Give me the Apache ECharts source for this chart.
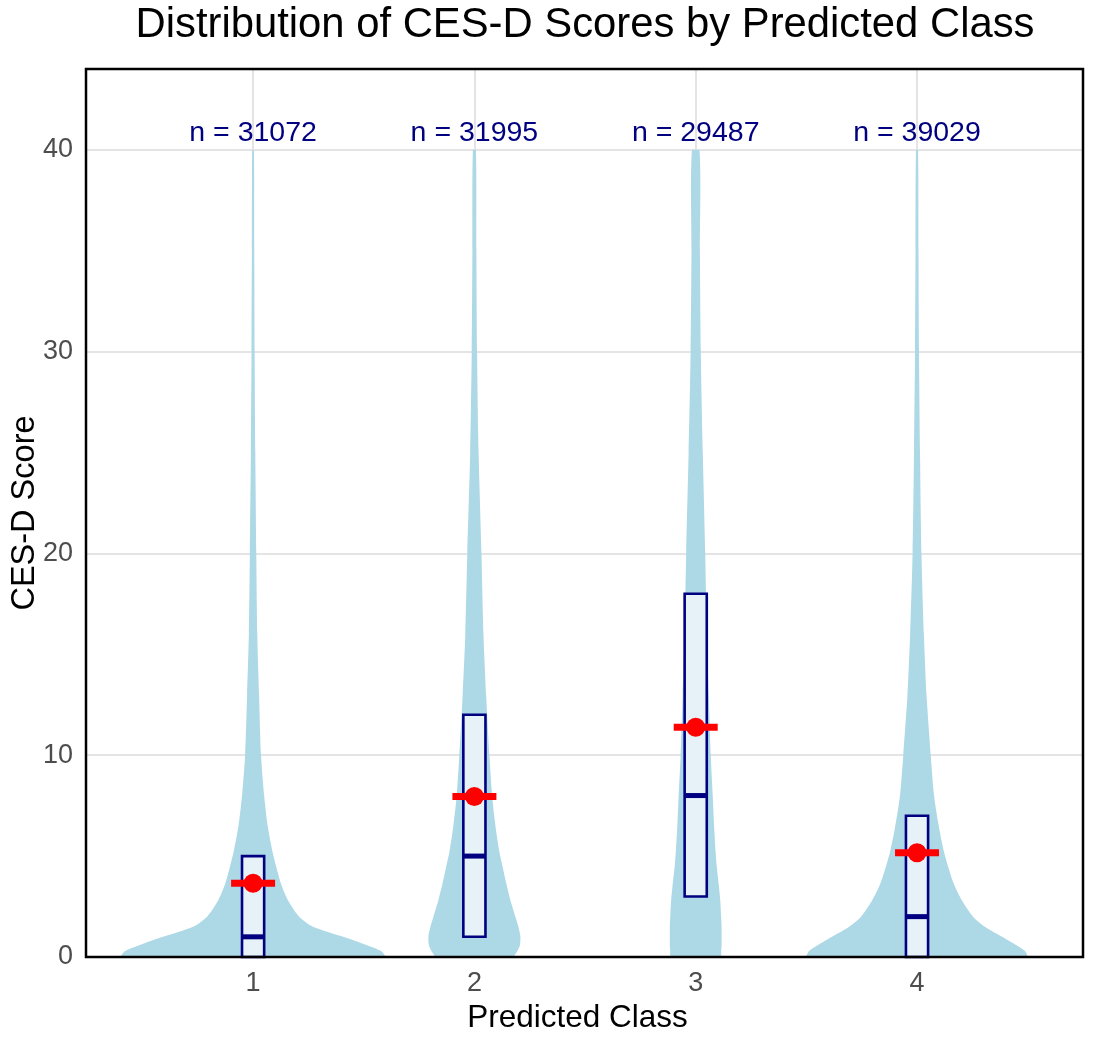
<!DOCTYPE html>
<html>
<head>
<meta charset="utf-8">
<script src="https://cdn.jsdelivr.net/npm/echarts@6/dist/echarts.min.js"></script>
<style>
  html, body { margin: 0; padding: 0; background: #fff; }
  #chart { width: 1096px; height: 1040px; }
</style>
</head>
<body>
<div id="chart"></div>
<script>
// data
const classes = [1, 2, 3, 4];
const counts = [31072, 31995, 29487, 39029];
const q1 = [0, 1, 3, 0];
const medians = [1, 5, 8, 2];
const q3 = [5, 12, 18, 7];
const means = [3.65, 7.95, 11.38, 5.17];
const yTicks = [0, 10, 20, 30, 40];
const labelScore = 40.8;

// violin half-widths (in class-axis units) at each score
const densityScores = [0, 0.3, 0.6, 1, 1.5, 2, 2.8, 3.6, 4.5, 5.2, 6.5, 8, 10, 13, 16, 20, 25, 30, 35, 40];
const violin1 = [0.601, 0.578, 0.511, 0.407, 0.271, 0.208, 0.158, 0.127, 0.104, 0.088, 0.066, 0.050, 0.036, 0.027, 0.019, 0.0145, 0.010, 0.007, 0.0054, 0.0036];
const violin2 = [0.172, 0.194, 0.206, 0.208, 0.199, 0.185, 0.163, 0.145, 0.127, 0.113, 0.095, 0.080, 0.068, 0.053, 0.041, 0.032, 0.019, 0.012, 0.009, 0.0068];
const violin3 = [0.113, 0.115, 0.117, 0.117, 0.117, 0.115, 0.111, 0.104, 0.095, 0.090, 0.083, 0.077, 0.068, 0.059, 0.050, 0.043, 0.032, 0.023, 0.019, 0.017];
const violin4 = [0.502, 0.488, 0.447, 0.384, 0.307, 0.253, 0.203, 0.167, 0.140, 0.122, 0.098, 0.077, 0.062, 0.043, 0.031, 0.020, 0.0136, 0.009, 0.0068, 0.0045];
const violins = [violin1, violin2, violin3, violin4];

const font = '"Liberation Sans", Arial, Helvetica, sans-serif';
const boxHalf = 0.05;

const chart = echarts.init(document.getElementById('chart'));

function bounds(pts) {
  let x0 = Infinity, y0 = Infinity, x1 = -Infinity, y1 = -Infinity;
  pts.forEach(p => {
    x0 = Math.min(x0, p[0]); y0 = Math.min(y0, p[1]);
    x1 = Math.max(x1, p[0]); y1 = Math.max(y1, p[1]);
  });
  return [[x0, y0], [x1, y1]];
}

const option = {
  animation: false,
  textStyle: { fontFamily: font },
  grid: { left: 86, right: 13, top: 69, bottom: 83, containLabel: false, outerBoundsMode: 'none' },
  xAxis: {
    type: 'value',
    min: 0.245,
    max: 4.75,
    axisLine: { show: false },
    axisTick: { show: false, customValues: classes },
    axisLabel: { customValues: classes, fontSize: 27, color: '#4d4d4d', margin: 13 },
    splitLine: { show: true, lineStyle: { color: '#e4e4e4', width: 2 } },
    name: 'Predicted Class',
    nameLocation: 'middle',
    nameGap: 45,
    nameTextStyle: { fontSize: 31.5, color: '#000', padding: [0, 14, 0, 0] }
  },
  yAxis: {
    type: 'value',
    min: 0,
    max: 44,
    axisLine: { show: false },
    axisTick: { show: false, customValues: yTicks },
    axisLabel: { customValues: yTicks, fontSize: 27, color: '#4d4d4d', margin: 13 },
    splitLine: { show: true, lineStyle: { color: '#e4e4e4', width: 2 } },
    name: 'CES-D Score',
    nameLocation: 'middle',
    nameRotate: 90,
    nameGap: 44,
    nameMoveOverlap: false,
    nameTextStyle: { fontSize: 32.5, color: '#000' }
  },
  graphic: [
    {
      type: 'text',
      x: 585,
      y: 25,
      style: {
        text: 'Distribution of CES-D Scores by Predicted Class',
        fontSize: 41.8,
        fontFamily: font,
        fill: '#000',
        align: 'center',
        verticalAlign: 'middle'
      }
    },
    {
      type: 'rect',
      z: 100,
      shape: { x: 86, y: 69, width: 997, height: 888 },
      style: { fill: 'transparent', stroke: '#000', lineWidth: 2.5 }
    }
  ],
  series: [
    {
      // violins
      type: 'custom',
      clip: true,
      z: 2,
      data: classes.map(c => [c]),
      renderItem: function (params, api) {
        const c = api.value(0);
        const w = violins[params.dataIndex];
        const right = densityScores.map((s, i) => api.coord([c + w[i], s]));
        const left = densityScores.map((s, i) => api.coord([c - w[i], s])).reverse();
        const pts = right.concat(left);
        return {
          type: 'polygon',
          shape: { points: pts, smooth: 0.25, smoothConstraint: bounds(pts) },
          style: { fill: '#add8e6' }
        };
      }
    },
    {
      // boxes
      type: 'custom',
      z: 3,
      encode: { x: 0, y: [1, 2, 3] },
      data: classes.map((c, i) => [c, q1[i], medians[i], q3[i]]),
      renderItem: function (params, api) {
        const c = api.value(0);
        const tl = api.coord([c - boxHalf, api.value(3)]);
        const br = api.coord([c + boxHalf, api.value(1)]);
        const ml = api.coord([c - boxHalf, api.value(2)]);
        const mr = api.coord([c + boxHalf, api.value(2)]);
        return {
          type: 'group',
          children: [
            {
              type: 'rect',
              shape: { x: tl[0], y: tl[1], width: br[0] - tl[0], height: br[1] - tl[1] },
              style: { fill: '#e6f2f8', stroke: '#000080', lineWidth: 2.6 }
            },
            {
              type: 'line',
              shape: { x1: ml[0], y1: ml[1], x2: mr[0], y2: mr[1] },
              style: { stroke: '#000080', lineWidth: 5 }
            }
          ]
        };
      }
    },
    {
      // mean bar
      type: 'scatter',
      z: 4,
      symbol: 'rect',
      symbolSize: [44, 7],
      itemStyle: { color: '#ff0000', opacity: 1 },
      data: classes.map((c, i) => [c, means[i]])
    },
    {
      // mean dot
      type: 'scatter',
      z: 5,
      symbol: 'circle',
      symbolSize: 19,
      itemStyle: { color: '#ff0000', opacity: 1 },
      data: classes.map((c, i) => [c, means[i]])
    },
    {
      // n labels
      type: 'scatter',
      z: 6,
      symbolSize: 0,
      itemStyle: { opacity: 1 },
      data: classes.map((c, i) => [c, labelScore, counts[i]]),
      label: {
        show: true,
        position: 'inside',
        formatter: p => 'n = ' + p.value[2],
        fontSize: 28.5,
        color: '#000080'
      }
    }
  ]
};

chart.setOption(option);
</script>
</body>
</html>
